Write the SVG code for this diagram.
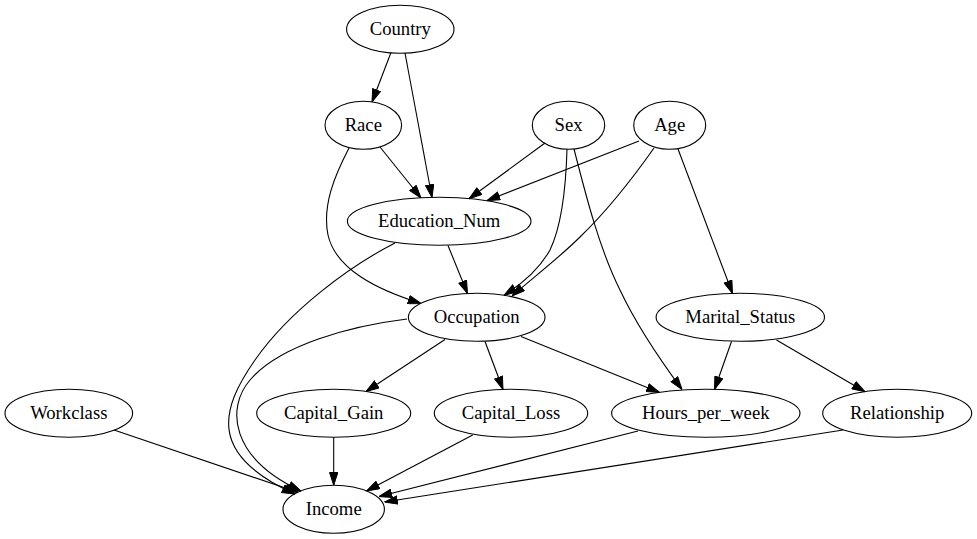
<svg xmlns="http://www.w3.org/2000/svg" width="977" height="539" viewBox="0 0 977 539">
<style>
.node ellipse{fill:none;stroke:#000;stroke-width:1.1}
.node text{font-family:"Liberation Serif","Times New Roman",serif;font-size:18.67px;text-anchor:middle;fill:#000}
#edges path{fill:none;stroke:#000;stroke-width:1.1;marker-end:url(#ah)}
</style>
<defs>
<marker id="ah" viewBox="0 0 13.33 9.33" refX="13.33" refY="4.67" markerWidth="13.33" markerHeight="9.33" markerUnits="userSpaceOnUse" orient="auto">
<path d="M0.5,0.5 L13.33,4.67 L0.5,8.83 z" fill="#000" stroke="#000" stroke-width="1"/>
</marker>
</defs>
<rect width="977" height="539" fill="#fff"/>
<g id="edges">
<path d="M391,52.5 L372,102"/>
<path d="M405,53 L432,197.5"/>
<path d="M380,147 L421,198"/>
<path d="M349,148 C335,175 322,205 328,235 C336,270 378,290 421,303.5"/>
<path d="M545,143 L469,198.8"/>
<path d="M639,141 L487,200.6"/>
<path d="M567,149 C566,185 562,225 550,250 C540,268 525,282 504,295.3"/>
<path d="M654,148 C635,175 610,208 580,237 C560,257 535,276 512,296"/>
<path d="M574,149 C587,200 600,250 620,290 C635,322 658,357 682,389.5"/>
<path d="M678,149 L732.5,293.5"/>
<path d="M448,245.5 L467.5,293.5"/>
<path d="M395,243 C350,266 290,310 255,360 C220,410 208,455 295,494"/>
<path d="M407,319 C350,326 280,345 250,380 C226,408 230,458 301,491"/>
<path d="M445,339.5 L366,391.5"/>
<path d="M485,341.5 L503,389.5"/>
<path d="M521,336.5 L659.5,392.5"/>
<path d="M731.5,341.5 L714.5,389.5"/>
<path d="M776.5,340 L865,391.7"/>
<path d="M114,430 L298,492.3"/>
<path d="M333.7,437.3 L333.7,485.3"/>
<path d="M472.7,435 L366.5,491"/>
<path d="M638,431 L379,496.5"/>
<path d="M843,430 L384.5,502"/>
</g>
<g id="Country" class="node"><ellipse cx="400.3" cy="29.3" rx="53.7" ry="24"/><text x="400.3" y="34.8">Country</text></g>
<g id="Race" class="node"><ellipse cx="363.3" cy="125.3" rx="38.3" ry="24"/><text x="363.3" y="130.8">Race</text></g>
<g id="Sex" class="node"><ellipse cx="568.5" cy="125.3" rx="36.2" ry="24"/><text x="568.5" y="130.8">Sex</text></g>
<g id="Age" class="node"><ellipse cx="669.7" cy="125.3" rx="36" ry="24"/><text x="669.7" y="130.8">Age</text></g>
<g id="Education_Num" class="node"><ellipse cx="439.2" cy="221.3" rx="91.8" ry="24"/><text x="439.2" y="226.8">Education_Num</text></g>
<g id="Occupation" class="node"><ellipse cx="476.7" cy="317.3" rx="68.3" ry="24"/><text x="476.7" y="322.8">Occupation</text></g>
<g id="Marital_Status" class="node"><ellipse cx="740.3" cy="317.3" rx="84.2" ry="24"/><text x="740.3" y="322.8">Marital_Status</text></g>
<g id="Workclass" class="node"><ellipse cx="68.8" cy="413.3" rx="63.8" ry="24"/><text x="68.8" y="418.8">Workclass</text></g>
<g id="Capital_Gain" class="node"><ellipse cx="333.7" cy="413.3" rx="77" ry="24"/><text x="333.7" y="418.8">Capital_Gain</text></g>
<g id="Capital_Loss" class="node"><ellipse cx="511" cy="413.3" rx="76.7" ry="24"/><text x="511" y="418.8">Capital_Loss</text></g>
<g id="Hours_per_week" class="node"><ellipse cx="705.8" cy="413.3" rx="94.2" ry="24"/><text x="705.8" y="418.8">Hours_per_week</text></g>
<g id="Relationship" class="node"><ellipse cx="897.2" cy="413.3" rx="74.5" ry="24"/><text x="897.2" y="418.8">Relationship</text></g>
<g id="Income" class="node"><ellipse cx="333.7" cy="509.3" rx="50.7" ry="24"/><text x="333.7" y="514.8">Income</text></g>
</svg>
